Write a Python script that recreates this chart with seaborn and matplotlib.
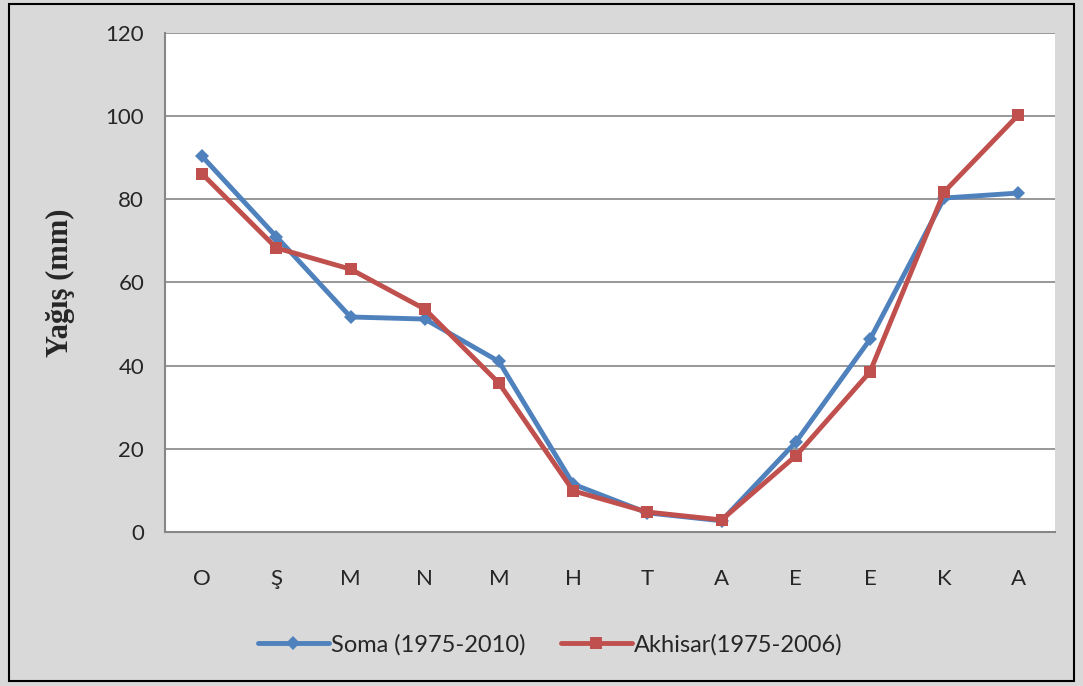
import numpy as np
import pandas as pd
import matplotlib
matplotlib.use("Agg")
import matplotlib.pyplot as plt
import seaborn as sns
from matplotlib.patches import Rectangle

# aylar (Ekim -> Eylül)
months = ["O", "Ş", "M", "N", "M", "H", "T", "A", "E", "E", "K", "A"]
soma = [90.3, 71.0, 51.7, 51.2, 41.0, 11.5, 4.6, 2.7, 21.6, 46.3, 80.3, 81.5]
akhisar = [86.1, 68.3, 63.2, 53.6, 35.8, 9.9, 4.8, 2.9, 18.3, 38.5, 81.8, 100.3]
series_names = ["Soma (1975-2010)", "Akhisar(1975-2006)"]

df = pd.DataFrame({
    "pos": list(range(len(months))) * 2,
    "yagis": soma + akhisar,
    "istasyon": [series_names[0]] * len(soma) + [series_names[1]] * len(akhisar),
})

sns.set_style("white")
plt.rcParams['font.family'] = ['Lato', 'DejaVu Sans']

fig = plt.figure(figsize=(10.83, 6.86), dpi=100, facecolor="#d9d9d9")
ax = fig.add_axes([0.1524, 0.2245, 0.8222, 0.7275])
ax.set_facecolor("white")

palette = {series_names[0]: "#4f81bd", series_names[1]: "#c0504d"}
sns.lineplot(data=df, x="pos", y="yagis", hue="istasyon", style="istasyon",
             markers={series_names[0]: "D", series_names[1]: "s"},
             dashes=False, palette=palette, linewidth=3.5,
             markersize=7, markeredgewidth=0, ax=ax)
# kare işaretleri biraz daha büyük
for line in ax.lines:
    if line.get_marker() == "s":
        line.set_markersize(9)

ax.set_xlim(-0.5, len(months) - 0.5)
ax.set_ylim(0, 120)
ax.set_yticks(np.arange(0, 121, 20))
ax.set_xticks(range(len(months)))
ax.set_xticklabels(months)
ax.set_xticks(np.arange(-0.5, len(months), 1), minor=True)
ax.tick_params(axis="x", which="major", length=0, pad=27, labelsize=16)
ax.tick_params(axis="x", which="minor", length=7, width=1.5, color="#868686", direction="out")
ax.tick_params(axis="y", length=7, width=1.5, color="#868686", direction="out", labelsize=16, pad=8)

ax.yaxis.grid(True, color="#868686", linewidth=1.2)
ax.set_axisbelow(True)
for side in ["top", "right"]:
    ax.spines[side].set_visible(False)
for side in ["left", "bottom"]:
    ax.spines[side].set_color("#868686")
    ax.spines[side].set_linewidth(1.5)

ax.set_xlabel("")
ax.set_ylabel("Yağış (mm)", fontsize=22, fontweight="bold",
              family=["Liberation Serif", "DejaVu Serif"], labelpad=22)

handles, labels = ax.get_legend_handles_labels()
ax.legend(handles, labels, loc="center", bbox_to_anchor=(0.508, 0.06),
          bbox_transform=fig.transFigure, ncol=2, frameon=False,
          fontsize=17, handlelength=3.0, handletextpad=0.1, columnspacing=1.5)

fig.patches.append(Rectangle((0.008, 0.008), 0.984, 0.986, transform=fig.transFigure,
                             fill=False, edgecolor="black", linewidth=1.5))

fig.savefig("out.png", dpi=100, facecolor=fig.get_facecolor())
